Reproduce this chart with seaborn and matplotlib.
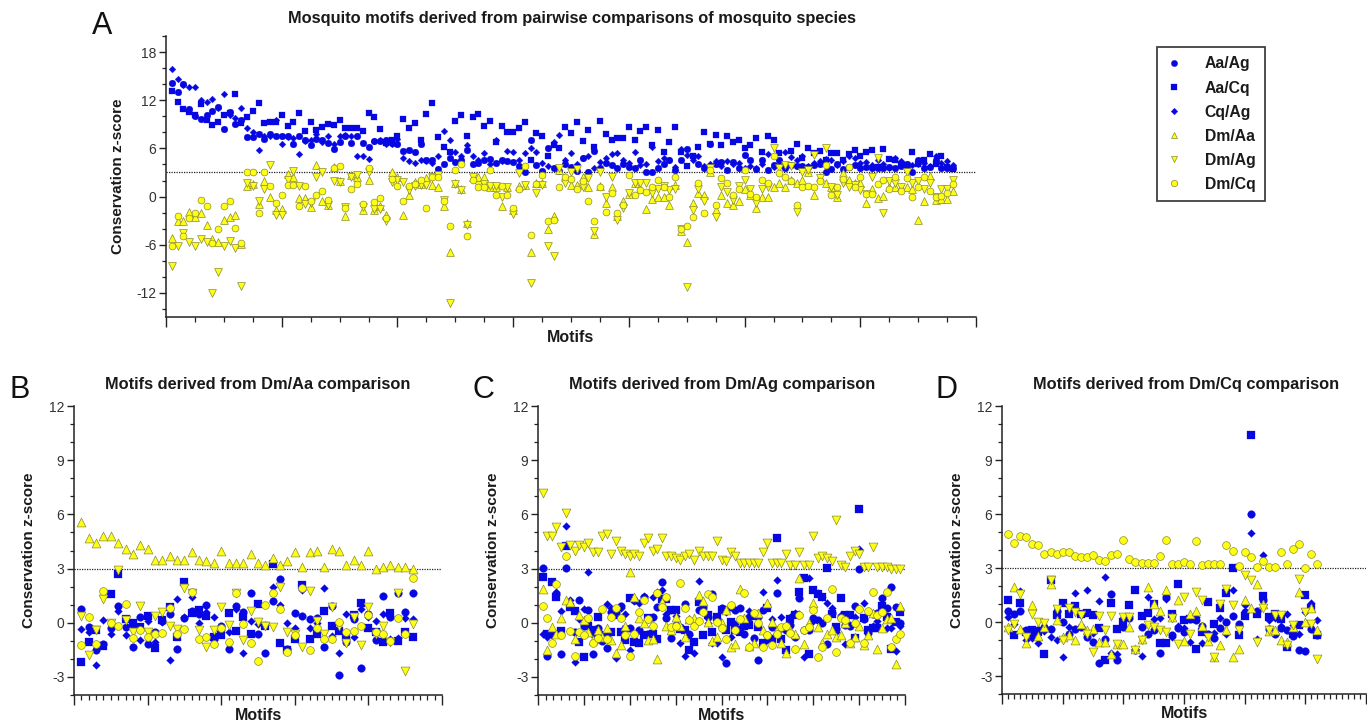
import matplotlib
matplotlib.use("Agg")
import matplotlib.pyplot as plt
from matplotlib.ticker import MultipleLocator
from matplotlib.lines import Line2D
import numpy as np
import pandas as pd
import seaborn as sns

# ---------------- DATA ----------------
series_names = ["Aa/Ag", "Aa/Cq", "Cq/Ag", "Dm/Aa", "Dm/Ag", "Dm/Cq"]

# Panel A (136 motifs)
A_aa_ag = [14.1, 13.0, 14.0, 10.9, 10.0, 9.6, 10.2, 10.7, 11.1, 8.4, 10.5, 9.1, 9.5, 7.4,
           7.4, 7.8, 7.2, 7.8, 7.5, 7.5, 7.5, 6.5, 7.5, 7.0, 6.4, 7.2, 7.0, 6.7, 5.9, 6.8, 7.6, 6.7, 7.5, 6.7,
           6.2, 6.9, 6.9, 7.0, 6.7, 6.5, 5.7, 5.8, 5.6, 6.5, 4.6, 4.5, 3.4,
           4.1, 4.8, 4.3, 4.6, 5.8, 4.0, 4.2, 4.6, 4.7, 4.2, 4.6, 4.4, 4.3, 3.8, 3.1, 7.1, 3.9, 3.2, 6.0, 3.6,
           3.2, 4.1, 3.7, 3.2, 4.8, 3.1, 5.7, 3.6, 4.2, 3.9, 3.5, 4.0, 3.7, 3.5, 4.5, 3.1, 3.1, 3.6, 4.1, 4.5,
           3.3, 4.6, 5.9, 5.0, 4.1, 3.6, 6.5,
           4.1, 4.3, 3.3, 4.3, 3.6, 5.2, 4.5, 3.4, 4.6, 3.3, 3.9, 4.6, 3.6, 3.9, 3.8, 3.8, 3.7, 3.9, 4.1, 3.1,
           3.4, 4.1, 3.4, 3.7, 3.9, 3.5, 3.7, 3.6, 3.5, 3.6, 3.7, 3.6, 3.8, 4.1, 3.1, 4.5, 3.5, 3.7, 4.6, 3.5,
           3.6, 3.5]
A_aa_cq = [13.1, 11.8, 10.9, 10.5, 10.1, 11.5, 9.5, 8.9, 9.3, 10.1, 10.4, 12.8, 9.2, 9.9,
           10.7, 11.6, 9.2, 9.3, 9.3, 10.1, 8.8, 9.3, 10.4, 8.2, 9.3, 8.3, 8.7, 9.1, 8.9, 9.5, 8.5, 8.5, 8.5, 8.2,
           10.4, 9.9, 8.4, 6.7, 7.0, 7.6, 9.6, 8.6, 9.2, 7.0, 10.3, 11.7, 7.4,
           6.2, 5.5, 9.4, 10.1, 7.5, 9.9, 10.3, 8.8, 9.4, 6.8, 8.8, 8.1, 8.1, 8.6, 9.3, 4.6, 7.9, 7.5, 5.1, 6.4,
           6.0, 8.7, 7.9, 9.3, 6.9, 8.3, 6.2, 9.4, 7.8, 7.1, 7.3, 7.3, 8.7, 7.1, 8.2, 8.7, 6.4, 8.3, 5.6, 6.8,
           8.7, 5.6, 3.8, 5.0, 6.2, 8.0, 6.6,
           7.7, 6.4, 7.5, 6.8, 7.1, 6.0, 6.4, 7.3, 5.6, 7.5, 7.1, 5.4, 3.8, 5.7, 6.6, 4.8, 6.1, 5.4, 5.7, 4.6,
           5.4, 5.4, 4.6, 5.3, 5.8, 5.1, 5.5, 5.8, 3.7, 5.9, 4.7, 4.6, 4.1, 3.9, 5.5, 4.1, 4.6, 5.3, 4.1, 5.1,
           3.7, 3.4]
A_cq_ag = [15.9, 14.6, 13.9, 13.6, 13.6, 12.0, 11.8, 12.1, 11.0, 12.8, 10.2, 9.8, 11.0, 8.5,
           8.0, 5.8, 7.6, 7.5, 9.5, 6.5, 7.4, 7.3, 5.3, 6.9, 7.0, 7.8, 6.8, 7.5, 6.6, 7.6, 7.7, 7.6, 5.0, 5.1,
           4.7, 6.9, 7.0, 6.6, 6.5, 7.2, 4.8, 4.4, 4.2, 4.5, 4.4, 4.2, 5.0,
           8.2, 7.0, 5.5, 5.0, 6.4, 5.1, 4.5, 5.4, 4.0, 7.1, 4.4, 5.7, 5.5, 4.6, 5.4, 6.0, 5.5, 4.2, 3.8, 6.8,
           7.7, 4.6, 5.4, 4.0, 4.8, 5.0, 3.6, 4.3, 4.8, 5.3, 5.4, 4.6, 4.2, 5.5, 3.9, 4.1, 6.2, 4.4, 4.8, 4.6,
           3.7, 5.9, 5.2, 4.5, 5.0, 3.8, 4.0,
           4.4, 3.8, 4.4, 4.1, 4.2, 3.5, 3.8, 3.6, 4.0, 5.3, 3.7, 3.9, 5.6, 4.9, 4.6, 5.1, 3.8, 4.2, 4.4, 4.7,
           4.5, 3.9, 4.4, 5.0, 4.8, 4.2, 4.3, 3.9, 4.5, 4.0, 3.6, 4.8, 4.4, 3.7, 3.9, 4.0, 4.2, 3.8, 5.1, 4.2,
           4.4, 3.9]
A_dm_aa = [-5.1, -3.1, -3.1, -1.9, -2.5, -2.1, -3.5, -5.3, -5.7, -2.9, -2.5, -2.3, -5.9,
           1.3, 1.6, -0.9, 1.9, -0.1, -1.7, -1.6, 2.8, 2.4, -0.2, -0.2, -1.3, 3.9, -0.5, -1.0, 3.7, 1.9, -2.4,
           2.7, 2.5, -1.7, 2.1, -1.7, -1.2, -2.3, 3.1, 2.4, -2.3, 0.2, 1.8, 1.6, 2.3, 1.4, 1.2,
           -1.2, -6.9, 1.7, 0.9, -3.3, 2.4, 2.5, 2.5, 1.2, 1.2, -1.2, 1.2, -1.7, 1.3, 1.4, -6.9, 1.7, 1.7, -4.1,
           -2.4, 3.3, 2.5, 1.4, 1.4, 2.5, 1.2, -4.6, 1.3, -0.8, 1.2, -2.4, -0.6, 0.3, 1.7, 1.0, -1.6, -0.3, 0.0,
           0.0, -1.0, 1.5, -4.3, -5.6, -0.8, 0.4, 0.2, 3.0,
           -1.7, 0.2, -0.8, -1.1, -0.6, 1.0, 0.2, -1.4, 0.0, 0.0, 1.2, 1.7, 1.2, 2.1, 1.7, 2.1, 3.0, 0.2, 2.5,
           1.7, 1.2, 0.0, 2.9, 2.1, 1.7, 1.7, -0.8, 0.9, -0.2, 0.1, 1.2, 1.2, 1.2, 1.2, 1.0, -2.9, -0.6, 2.6,
           -0.4, -0.3, -0.3, 0.7]
A_dm_ag = [-8.6, -6.2, -4.5, -5.6, -6.2, -5.3, -5.6, -12.0, -9.4, -6.2, -5.5, -6.4, -11.2,
           1.7, 1.3, -0.5, 1.0, 3.9, -2.3, -2.3, 2.1, 3.2, 1.3, -0.9, -0.8, 2.5, 3.0, -1.0, 2.0, 1.8, -1.3,
           2.5, 2.7, -1.3, 3.0, -1.6, -1.6, -3.0, 1.8, 2.1, 1.8, 0.8, 1.3, 1.4, 1.5, 2.5, 2.7,
           -0.4, -13.2, 1.6, 0.8, -3.5, 2.5, 1.4, 1.6, 1.3, 1.3, 0.0, 1.2, -2.2, 2.9, 1.4, -10.8, 0.4, 1.4,
           -6.2, -7.4, 3.5, 1.7, 3.1, 3.4, 1.2, 2.3, -4.3, 3.0, 0.0, 2.4, -2.9, -1.4, 0.4, 1.7, 1.7, 1.7, 0.4,
           0.9, 1.3, 0.8, 0.9, -4.1, -11.3, -1.7, 1.0, -0.5, 3.6,
           -2.5, 1.2, 0.6, -0.4, 1.3, 2.1, 1.0, -0.8, 1.0, 1.2, 6.0, 3.5, 3.9, 3.8, -1.9, 3.1, 3.3, 5.2, 2.3,
           6.1, 1.2, 0.2, 1.7, 1.2, 1.4, 0.8, 0.3, 2.4, 4.8, -2.0, 1.9, 1.7, 1.2, 3.1, 1.7, 1.9, 1.0, 1.7,
           0.0, 0.9, 1.0, 2.1]
A_dm_cq = [-6.2, -2.4, -4.9, -2.7, -2.0, -0.4, -1.2, -5.8, -4.1, -1.2, -0.6, -3.9, -5.8,
           3.0, 3.1, -2.1, 3.0, 1.3, -0.8, 0.2, 1.4, 1.4, -1.2, 1.3, -0.5, 0.2, 0.7, -0.4, 3.6, 3.8, -1.4,
           1.0, 1.6, -0.9, 3.6, -0.7, -0.2, -2.7, 2.2, 1.3, -0.5, 1.3, 1.6, 2.1, -1.45, 2.5, 2.5,
           -0.5, -3.7, 3.3, 4.1, -4.9, 2.1, 1.2, 1.2, 3.3, 0.2, 1.3, 0.2, -1.4, 1.0, 3.8, -4.8, 1.6, 2.7, -3.1,
           -2.9, 1.2, 2.5, 2.2, 0.9, 1.9, -0.5, -3.1, 1.2, -1.9, 0.4, -2.1, -1.0, 2.7, 0.2, 0.8, 0.6, 1.2, 2.1,
           1.2, 0.0, 2.5, -4.1, -3.7, -2.6, 1.7, -2.1, 3.3,
           -1.0, 2.3, 1.7, 0.2, 0.9, 3.3, 0.3, 0.0, 2.1, 1.7, 5.1, 2.9, 2.5, 1.9, -1.0, 1.2, 1.3, 1.2, 1.9,
           3.9, 0.2, 1.2, 2.2, 3.7, 1.2, 2.5, 0.3, 0.3, 1.6, 2.1, 0.9, 2.4, 0.7, 2.3, 0.0, 1.2, 2.5, 0.7,
           0.0, 0.1, 0.4, 1.6]

# Panel B: motifs derived from Dm/Aa comparison (46 motifs)
B_aa_ag = [0.74, -0.22, -1.5, -1.2, -0.3, 0.9, -0.26, -1.33, 0.3, -1.18, -0.5, 0.1, 0.48, -1.44, 0.24,
           0.63, 0.5, 0.98, -0.9, -0.18, -1.44, 0.92, 0.6, 1.66, -0.6, -1.7, 1.22, 2.42, -1.44, 0.52,
           0.4, 0.18, 0.24, -1.33, 0.92, -2.9, -1.05, 0.2, -2.53, 0.46, -0.96, 1.5, 0.3, 1.66, 0.6, 1.66]
B_aa_cq = [-2.2, -1.05, -0.4, -1.3, 1.6, 2.7, 0.2, 0.0, -0.26, 0.4, -1.4, 0.15, 0.85, -0.77, 2.25,
           0.55, 0.7, 0.37, -0.77, -0.7, 0.52, -0.44, 0.33, -0.65, 1.03, -0.2, 3.23, -1.1, -1.5, -0.92,
           2.08, -0.92, -0.65, 0.66, -0.18, -0.46, -0.77, 0.42, 1.1, -0.31, -0.5, -1.05, 0.52, -1.0, -0.5, -0.81]
B_cq_ag = [-0.33, -0.5, -2.35, 0.15, -0.6, 0.66, -0.7, -0.3, -0.96, 0.1, -1.05, 0.05, -2.07, 1.3, 0.3,
           1.44, 0.0, 0.6, 0.33, -0.4, -0.5, 0.77, -1.7, 0.1, -0.07, -0.13, 2.0, 0.98, 0.0, -0.3,
           1.8, -0.3, 0.0, 1.95, -0.74, -1.7, 0.46, -0.77, 0.76, 0.3, 0.1, 0.46, -0.92, -0.87, 0.24, 0.18]
B_dm_aa = [5.6, 4.7, 4.4, 4.8, 4.8, 4.4, 4.1, 3.8, 4.3, 4.1, 3.5, 3.5, 3.7, 3.5, 3.5, 3.9, 3.5, 3.4,
           3.3, 4.0, 3.3, 3.3, 3.3, 3.8, 3.3, 3.2, 3.6, 3.2, 3.4, 3.9, 3.1, 3.9, 4.0, 3.1, 4.1, 4.0,
           3.2, 3.5, 3.2, 4.0, 3.0, 3.1, 3.2, 3.1, 3.1, 3.0]
B_dm_ag = [0.4, -1.8, -0.4, 1.3, 0.0, 2.9, 0.15, -0.5, 0.92, -0.5, 0.37, 0.6, -0.18, -0.37, 1.9,
           1.66, -0.4, -1.33, -0.4, 0.85, -0.13, 1.66, -0.96, 0.66, 0.05, -0.18, -0.26, 2.0, -0.5, -0.6,
           -1.33, 1.77, 0.1, -0.6, 0.88, -0.2, -1.1, 0.33, -1.24, 0.88, -0.6, -0.18, -1.05, 1.66, -2.68, -0.07]
B_dm_cq = [-1.25, 0.33, -1.15, 1.77, 0.0, -0.2, 1.03, -0.87, -0.4, -0.77, -0.6, -0.55, 0.8, -0.63, -0.33,
           1.7, -0.92, -0.77, -1.15, -0.3, -1.05, 1.66, -0.07, -1.1, -2.1, 0.98, 1.62, 0.74, -1.6, -0.7,
           1.9, -1.5, -0.3, -0.92, -0.92, 0.05, -0.53, -0.44, -0.18, 0.42, -0.5, -0.63, -1.0, 0.24, -0.65, 2.47]

# Panel C: motifs derived from Dm/Ag comparison (79 motifs)
C_aa_ag = [3.05, -1.83, -0.6, 1.6, -1.73, 3.05, 0.9, -0.5, 1.25, -0.18, 0.7, -1.73, -0.3, -1.0, -1.42,
           0.57, 0.6, 0.9, -0.3, -0.3, 1.25, -0.4, 1.44, -0.6, 0.3, 0.88, 2.25, 0.24, -0.87, -0.13,
           -0.26, 1.03, -0.6, 0.1, 0.7, 0.85, 0.33, 1.6, 0.2, 0.8, -2.25, 0.85, 0.7, 0.8, -0.6,
           0.3, -0.87, -2.07, 0.7, -0.68, -0.22, 1.66, -0.3, -0.4, -0.1, -0.8, 1.35, -0.4, -0.4, 0.24,
           0.15, 0.0, -1.18, 0.52, -0.37, 0.3, -0.1, -0.2, 0.92, 2.95, 0.2, -0.5, 0.5, 0.55, 1.35,
           0.8, 1.96, 0.85, 0.0]
C_aa_cq = [2.55, -0.6, 2.23, 1.44, -0.45, 4.26, 0.85, 0.66, -1.05, -1.92, -0.2, -0.4, 0.33, -0.9, -0.8,
           -0.5, 0.42, -0.5, -0.95, 1.35, -1.05, -1.1, -0.68, 0.24, -0.6, -0.92, 1.3, 1.3, 0.7, 0.7,
           -0.35, -0.4, -1.5, -1.05, 1.16, -0.68, 0.42, -0.5, 0.33, 0.7, -0.4, 0.05, -0.4, -0.5, -0.2,
           -0.13, 0.35, -0.22, -1.1, 0.8, -0.92, 4.67, -0.92, -1.5, 0.18, 0.42, 1.72, 2.45, -1.73, 1.8,
           1.6, 1.44, 3.05, 0.48, -0.22, 1.35, 0.42, 0.42, -0.87, 6.27, 0.24, -0.4, -0.3, -0.3, 0.92,
           0.3, -1.48, 0.05, 0.6]
C_cq_ag = [-0.6, -0.8, -0.7, 1.7, 0.66, 5.37, 1.25, -2.16, 0.2, 0.74, 2.79, -0.68, -0.9, -0.6, 1.03,
           0.8, -1.97, 0.8, 0.46, -1.5, 1.2, 1.07, 1.48, 0.18, 1.44, 1.7, 1.8, 0.5, 0.7, 0.4,
           -1.14, -1.85, -0.68, -1.7, 2.32, 0.74, 0.0, -1.1, -1.14, -1.88, 0.57, -0.77, -0.07, -0.3, 0.0,
           0.66, 0.42, 0.24, 1.7, -0.96, 0.18, 2.36, 0.3, -0.2, 0.33, 0.55, 0.5, -1.92, 2.5, 0.1,
           1.66, 1.4, 1.07, 0.8, -0.5, 0.42, -1.18, -0.1, 0.3, 4.06, 1.1, -0.6, -0.2, 0.1, 0.85,
           -0.3, -0.3, -1.55, -0.18]
C_dm_aa = [1.85, -1.5, -0.26, -0.6, 0.24, 1.25, 1.16, -0.92, 0.42, 0.15, -0.5, -0.96, -0.4, -0.77, -0.3,
           -0.96, -1.7, -1.24, -0.2, 2.79, 1.44, 0.24, 0.0, -0.96, -0.92, -2.03, 1.16, -0.18, -0.4, 0.33,
           -0.2, -0.77, 0.18, 0.24, 1.53, 1.22, 0.05, -1.0, -0.77, 0.0, 0.7, -1.37, -1.18, 1.85, 0.24,
           -1.3, -1.14, 0.52, -0.4, 1.07, 0.05, -0.4, -1.14, -1.7, -0.4, -0.6, 2.45, -1.18, 0.0, 1.07,
           -0.22, -1.1, -0.6, -0.4, -0.77, -0.68, 0.0, -1.1, -0.77, -0.2, -1.24, -0.68, 0.52, -1.48, -0.3,
           0.18, 0.24, -2.29, 0.92]
C_dm_ag = [7.2, 4.8, 4.8, 5.3, 4.2, 6.05, 4.3, 4.0, 4.3, 4.2,
           4.4, 3.9, 3.9, 4.8, 4.9, 3.8, 4.5, 4.0, 3.8, 3.7,
           3.8, 3.7, 4.4, 4.7, 4.0, 4.1, 4.7, 3.7, 3.7, 3.6,
           3.5, 3.7, 3.8, 3.5, 4.0, 3.7, 3.7, 3.7, 4.5, 3.5,
           3.4, 3.9, 3.7, 3.3, 3.3, 3.3, 3.3, 3.3, 3.9, 4.4,
           3.3, 3.3, 3.3, 3.8, 3.2, 3.2, 3.9, 3.2, 3.2, 4.8,
           3.6, 3.7, 3.6, 3.4, 5.7, 3.2, 3.1, 3.7, 4.0, 3.8,
           3.1, 3.1, 4.2, 3.1, 3.1, 3.1, 3.0, 3.0, 3.0]
C_dm_cq = [0.92, 0.24, -1.1, 2.14, -0.68, 3.69, -0.45, -1.85, -0.5, -0.68, 0.24, -1.14, -0.83, 0.74, -0.92,
           0.3, 0.8, 0.24, -0.7, -1.85, -0.63, 0.57, 1.25, 0.18, -0.18, 1.66, 0.85, 1.44, -0.26, -0.18,
           2.21, 0.8, 0.15, -0.18, 0.1, 0.6, 1.6, 1.44, 0.05, -0.3, -0.92, 0.98, -0.4, 0.18, 1.66,
           -1.33, 0.52, 0.0, -1.33, -0.68, -1.24, -0.6, -0.22, -0.2, -0.55, -1.48, 0.42, -0.4, -0.22, 0.7,
           -1.92, -1.37, 0.24, 1.85, -1.6, 0.24, 0.15, -1.14, 0.0, 0.74, -1.14, 0.66, 1.72, 0.42, 0.6,
           1.72, -1.33, -0.92, -0.63]

# Panel D: motifs derived from Dm/Cq comparison (52 motifs)
D_aa_ag = [0.6, 0.46, 0.6, -0.43, -0.65, -0.43, -0.28, -0.37, 0.6, 0.0, -0.65, -0.37, -0.28, -0.83, -1.11,
           -2.28, -0.93, 1.54, -2.13, -0.28, 0.2, -1.57, -0.28, -0.69, -0.46, -1.72, 1.39, -0.74, -0.31, -0.55,
           0.19, 0.13, -0.2, -0.65, -0.87, -0.31, 0.0, 0.31, -0.09, 0.56, 6.02, 0.61, 1.2, -0.37, -0.65,
           -0.31, -0.46, -0.8, -1.57, -1.61, -0.37, -0.74]
D_aa_cq = [1.2, -0.74, 1.05, -0.55, -0.46, -0.55, -1.8, 2.35, 0.37, 1.05, 0.46, 0.87, 0.46, 0.5, 0.37,
           -0.31, -2.09, 1.05, -0.37, 0.0, 0.93, 1.8, 0.31, 0.5, 1.02, -1.17, -1.17, 0.46, 2.09, 0.13,
           0.15, -1.48, -0.55, 1.11, -0.09, 0.8, 1.61, 3.02, -0.74, 0.31, 10.37, 0.46, 1.43, 0.28, 0.46,
           0.19, -1.39, -0.65, -0.19, 1.48, 0.8, -0.74]
D_cq_ag = [0.28, -0.1, 1.72, -1.0, -0.87, -1.17, -0.5, -0.83, -1.02, -1.94, -0.3, 1.61, 0.37, 1.76, -0.6,
           1.17, 2.5, -1.72, -1.76, 0.2, 0.31, -1.5, -1.9, 1.39, 0.19, 0.24, 1.3, -0.83, -0.2, -0.31,
           -1.11, 0.3, -1.17, -0.7, -0.6, 0.24, -0.69, 1.8, -0.3, 0.93, 4.96, -0.93, 3.7, 0.1, 0.24,
           -0.2, 0.46, -0.19, -0.69, 0.56, 1.06, 0.13]
D_dm_aa = [-0.3, 1.94, -0.37, -1.17, 0.96, -0.8, -0.3, 2.13, 0.1, -0.83, -0.74, -0.98, -0.13, -0.46, -0.37,
           -1.11, -1.11, -1.8, -1.2, -1.2, -0.28, -1.48, -0.93, 1.94, 1.02, 0.61, 1.8, 0.28, 1.2, -1.06,
           0.46, 0.61, -0.24, -1.06, -1.94, -1.3, -0.46, -1.94, -1.48, 1.2, 0.8, 2.13, 1.02, -0.5, -0.46,
           -0.98, -1.11, -0.28, 1.67, 0.0, 0.8, -0.46]
D_dm_ag = [-0.45, -0.1, 1.53, -0.83, 0.43, 0.0, -0.05, 2.35, 0.74, -0.98, 0.8, 0.56, 0.37, -0.69, -1.67,
           0.31, -0.43, 0.31, -1.2, 0.28, 0.28, -1.54, -0.98, -0.19, -0.28, -0.43, -0.55, 0.24, -1.2, 1.39,
           -0.65, 1.67, 1.2, -0.83, -1.94, 1.02, 1.85, 0.93, -0.46, 2.59, 2.31, -1.11, 0.8, -0.43, 0.37,
           0.37, -1.3, -0.19, 2.41, 0.56, -0.09, -2.04]
D_dm_cq = [4.9, 4.4, 4.8, 4.75, 4.35, 4.3, 3.8, 3.9, 3.8, 3.9, 3.9, 3.65, 3.6, 3.6, 3.75, 3.45, 3.4,
           3.75, 3.8, 4.55, 3.5, 3.35, 3.3, 3.3, 3.3, 3.65, 4.55, 3.25, 3.25, 3.35, 3.2, 4.5, 3.15, 3.2,
           3.25, 3.2, 4.3, 3.95, 3.1, 3.9, 3.6, 3.05, 3.4, 3.05, 3.05, 3.9, 3.25, 4.05, 4.35, 3.0, 3.8, 3.25]

panel_titles = ["Mosquito motifs derived from pairwise comparisons of mosquito species",
                "Motifs derived from Dm/Aa comparison",
                "Motifs derived from Dm/Ag comparison",
                "Motifs derived from Dm/Cq comparison"]

# ---------------- STYLE ----------------
sns.set_theme(style="ticks")
plt.rcParams["font.family"] = ["Liberation Sans", "DejaVu Sans"]
plt.rcParams["axes.unicode_minus"] = False

BLUE = "#0707e3"
YELLOW = "#ffff14"
YEDGE = "#8a8a30"
TXT = "#1a1a1a"
markers = {"Aa/Ag": "o", "Aa/Cq": "s", "Cq/Ag": "D", "Dm/Aa": "^", "Dm/Ag": "v", "Dm/Cq": "o"}
colors = {"Aa/Ag": BLUE, "Aa/Cq": BLUE, "Cq/Ag": BLUE, "Dm/Aa": YELLOW, "Dm/Ag": YELLOW, "Dm/Cq": YELLOW}

W, H = 1367, 723
fig = plt.figure(figsize=(W / 100, H / 100), dpi=100)


def px_axes(left, top, right, bottom):
    return fig.add_axes([left / W, 1 - bottom / H, (right - left) / W, (bottom - top) / H])


axA = px_axes(166, 36, 976, 317)
axB = px_axes(74, 406, 442, 695)
axC = px_axes(538, 406, 905, 695)
axD = px_axes(1002, 406, 1366, 694)


def long_frame(lists):
    rows = []
    for name, vals in zip(series_names, lists):
        for i, v in enumerate(vals):
            rows.append((i + 1, v, name))
    return pd.DataFrame(rows, columns=["motif", "z", "series"])


def draw(ax, lists, scale):
    df = long_frame(lists)
    base = {"o": 20, "s": 19, "D": 10, "^": 26, "v": 26}
    for name in series_names:
        sub = df[df["series"] == name]
        m = markers[name]
        is_y = colors[name] == YELLOW
        sns.scatterplot(data=sub, x="motif", y="z", ax=ax, marker=m,
                        color=colors[name], s=base[m] * scale,
                        edgecolor=YEDGE if is_y else BLUE,
                        linewidth=0.5 if is_y else 0.2,
                        legend=False, zorder=3 if is_y else 2)
    ax.axhline(3, color="#222222", lw=0.9, ls=(0, (1, 1)), zorder=1)


def style(ax, xmax, xmaj, xmin, ylim, ymaj, ymin, ylabel_pad):
    ax.set_xlim(0, xmax)
    ax.set_ylim(*ylim)
    ax.xaxis.set_major_locator(MultipleLocator(xmaj))
    ax.xaxis.set_minor_locator(MultipleLocator(xmin))
    ax.yaxis.set_major_locator(MultipleLocator(ymaj))
    ax.yaxis.set_minor_locator(MultipleLocator(ymin))
    for s in ["top", "right"]:
        ax.spines[s].set_visible(False)
    for s in ["left", "bottom"]:
        ax.spines[s].set_linewidth(1.1)
        ax.spines[s].set_color("#222222")
    ax.tick_params(axis="x", which="major", length=7, width=1.0, labelbottom=False, color="#222222")
    ax.tick_params(axis="x", which="minor", length=3.5, width=0.9, color="#222222")
    ax.tick_params(axis="y", which="major", length=5, width=1.0, labelsize=10, colors="#222222",
                   labelcolor="#333333", pad=2)
    ax.tick_params(axis="y", which="minor", length=3, width=0.9, color="#222222")
    ax.set_xlabel("Motifs", fontsize=11.5, fontweight="bold", color=TXT, labelpad=2)
    ax.set_ylabel("Conservation z-score", fontsize=11, fontweight="bold", color=TXT, labelpad=ylabel_pad)
    ax.set_facecolor("white")


draw(axA, [A_aa_ag, A_aa_cq, A_cq_ag, A_dm_aa, A_dm_ag, A_dm_cq], 1.2)
style(axA, 140, 20, 5, (-15, 20), 6, 2, 8)

draw(axB, [B_aa_ag, B_aa_cq, B_cq_ag, B_dm_aa, B_dm_ag, B_dm_cq], 1.55)
style(axB, 50, 10, 1, (-4, 12), 3, 1, 9)

draw(axC, [C_aa_ag, C_aa_cq, C_cq_ag, C_dm_aa, C_dm_ag, C_dm_cq], 1.55)
style(axC, 80, 10, 10 / 6, (-4, 12), 3, 1, 9)

draw(axD, [D_aa_ag, D_aa_cq, D_cq_ag, D_dm_aa, D_dm_ag, D_dm_cq], 1.55)
style(axD, 60, 10, 1, (-4, 12), 3, 1, 9)

# titles and panel letters
def ftext(x, y, s, **kw):
    fig.text(x / W, 1 - y / H, s, **kw)

ftext(572, 18, panel_titles[0], ha="center", va="center", fontsize=11.8, fontweight="bold", color=TXT)
ftext(258, 384, panel_titles[1], ha="center", va="center", fontsize=11.8, fontweight="bold", color=TXT)
ftext(722, 384, panel_titles[2], ha="center", va="center", fontsize=11.8, fontweight="bold", color=TXT)
ftext(1186, 384, panel_titles[3], ha="center", va="center", fontsize=11.8, fontweight="bold", color=TXT)
for letter, x, y in [("A", 102, 26), ("B", 20, 390), ("C", 483, 390), ("D", 947, 390)]:
    ftext(x, y, letter, ha="center", va="center", fontsize=22, color="#111111")

# legend
handles = []
for name in series_names:
    is_y = colors[name] == YELLOW
    handles.append(Line2D([], [], ls="none", marker=markers[name],
                          markerfacecolor=colors[name],
                          markeredgecolor=YEDGE if is_y else BLUE,
                          markeredgewidth=0.5 if is_y else 0.2,
                          markersize=4.6 if markers[name] != "D" else 3.4))
leg = fig.legend(handles, series_names, loc="upper left",
                 bbox_to_anchor=(1157 / W, 1 - 47 / H), bbox_transform=fig.transFigure,
                 frameon=True, fancybox=False, borderaxespad=0, borderpad=0.6,
                 handlelength=0.95, handletextpad=1.5, labelspacing=0.58,
                 prop={"weight": "bold", "size": 11.3})
leg.get_frame().set_edgecolor("#111111")
leg.get_frame().set_linewidth(1.3)
for t in leg.get_texts():
    t.set_color(TXT)

fig.savefig("out.png", dpi=100, facecolor="white")
